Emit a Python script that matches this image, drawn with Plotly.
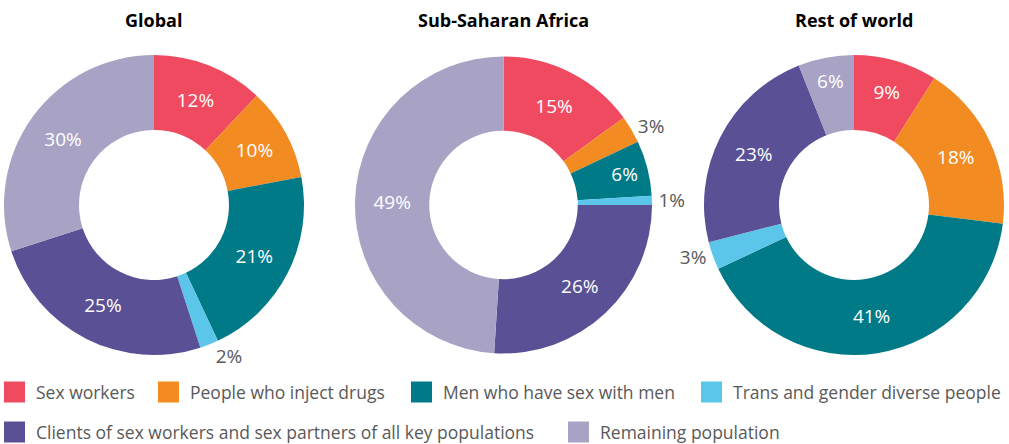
import plotly.graph_objects as go

categories = ["Sex workers", "People who inject drugs", "Men who have sex with men",
              "Trans and gender diverse people",
              "Clients of sex workers and sex partners of all key populations",
              "Remaining population"]
colors = ["#EF4A60", "#F28C22", "#007A87", "#5BC5EA", "#5A5096", "#A8A2C4"]

titles = ["Global", "Sub-Saharan Africa", "Rest of world"]
global_vals = [12, 10, 21, 2, 25, 30]
ssa_vals = [15, 3, 6, 1, 26, 49]
row_vals = [9, 18, 41, 3, 23, 6]

global_pos = ["inside", "inside", "inside", "outside", "inside", "inside"]
ssa_pos = ["inside", "outside", "inside", "outside", "inside", "inside"]
row_pos = ["inside", "inside", "inside", "outside", "inside", "inside"]

W, H = 1009, 444
domains_x = [[4 / W, 304 / W], [355 / W, 652 / W], [704 / W, 1004 / W]]
domain_y = [1 - 355 / H, 1 - 55 / H]

FONT = "Open Sans"
GRAY = "#595959"

fig = go.Figure()
for i, (vals, pos) in enumerate([(global_vals, global_pos), (ssa_vals, ssa_pos), (row_vals, row_pos)]):
    fig.add_trace(go.Pie(
        labels=categories, values=vals, sort=False, direction="clockwise", rotation=0,
        hole=0.5, marker=dict(colors=colors, line=dict(width=0)),
        texttemplate="%{value}%", textposition=pos,
        insidetextorientation="horizontal",
        insidetextfont=dict(color="white", size=19, family=FONT),
        outsidetextfont=dict(color=GRAY, size=19, family=FONT),
        domain=dict(x=domains_x[i], y=domain_y),
        showlegend=False, hoverinfo="label+value",
    ))

for i, t in enumerate(titles):
    fig.add_annotation(text="<b>%s</b>" % t, x=(domains_x[i][0] + domains_x[i][1]) / 2,
                       y=1 - 20 / H, xref="paper", yref="paper", showarrow=False,
                       font=dict(size=18, color="#000000", family=FONT),
                       xanchor="center", yanchor="middle")

# Manual legend (square swatches + text), laid out in two rows as in the reference
legend_layout = [  # (category index, swatch left px, row centre px)
    (0, 4, 392), (1, 158, 392), (2, 411, 392), (3, 701, 392),
    (4, 4, 432), (5, 568, 432),
]
SW = 21
for idx, x0, yc in legend_layout:
    fig.add_shape(type="rect", xref="paper", yref="paper",
                  x0=x0 / W, x1=(x0 + SW) / W,
                  y0=1 - (yc + SW / 2) / H, y1=1 - (yc - SW / 2) / H,
                  fillcolor=colors[idx], line=dict(width=0))
    fig.add_annotation(text=categories[idx], xref="paper", yref="paper",
                       x=(x0 + SW + 9) / W, y=1 - yc / H, showarrow=False,
                       xanchor="left", yanchor="middle",
                       font=dict(size=17.5, color=GRAY, family=FONT))

fig.update_layout(
    width=W, height=H,
    margin=dict(l=0, r=0, t=0, b=0),
    paper_bgcolor="white", plot_bgcolor="white",
    font=dict(family=FONT, color=GRAY),
    showlegend=False,
)

fig.write_html("out.html", config={"displayModeBar": False},
               post_script="document.body.style.margin='0';document.body.style.padding='0';")
